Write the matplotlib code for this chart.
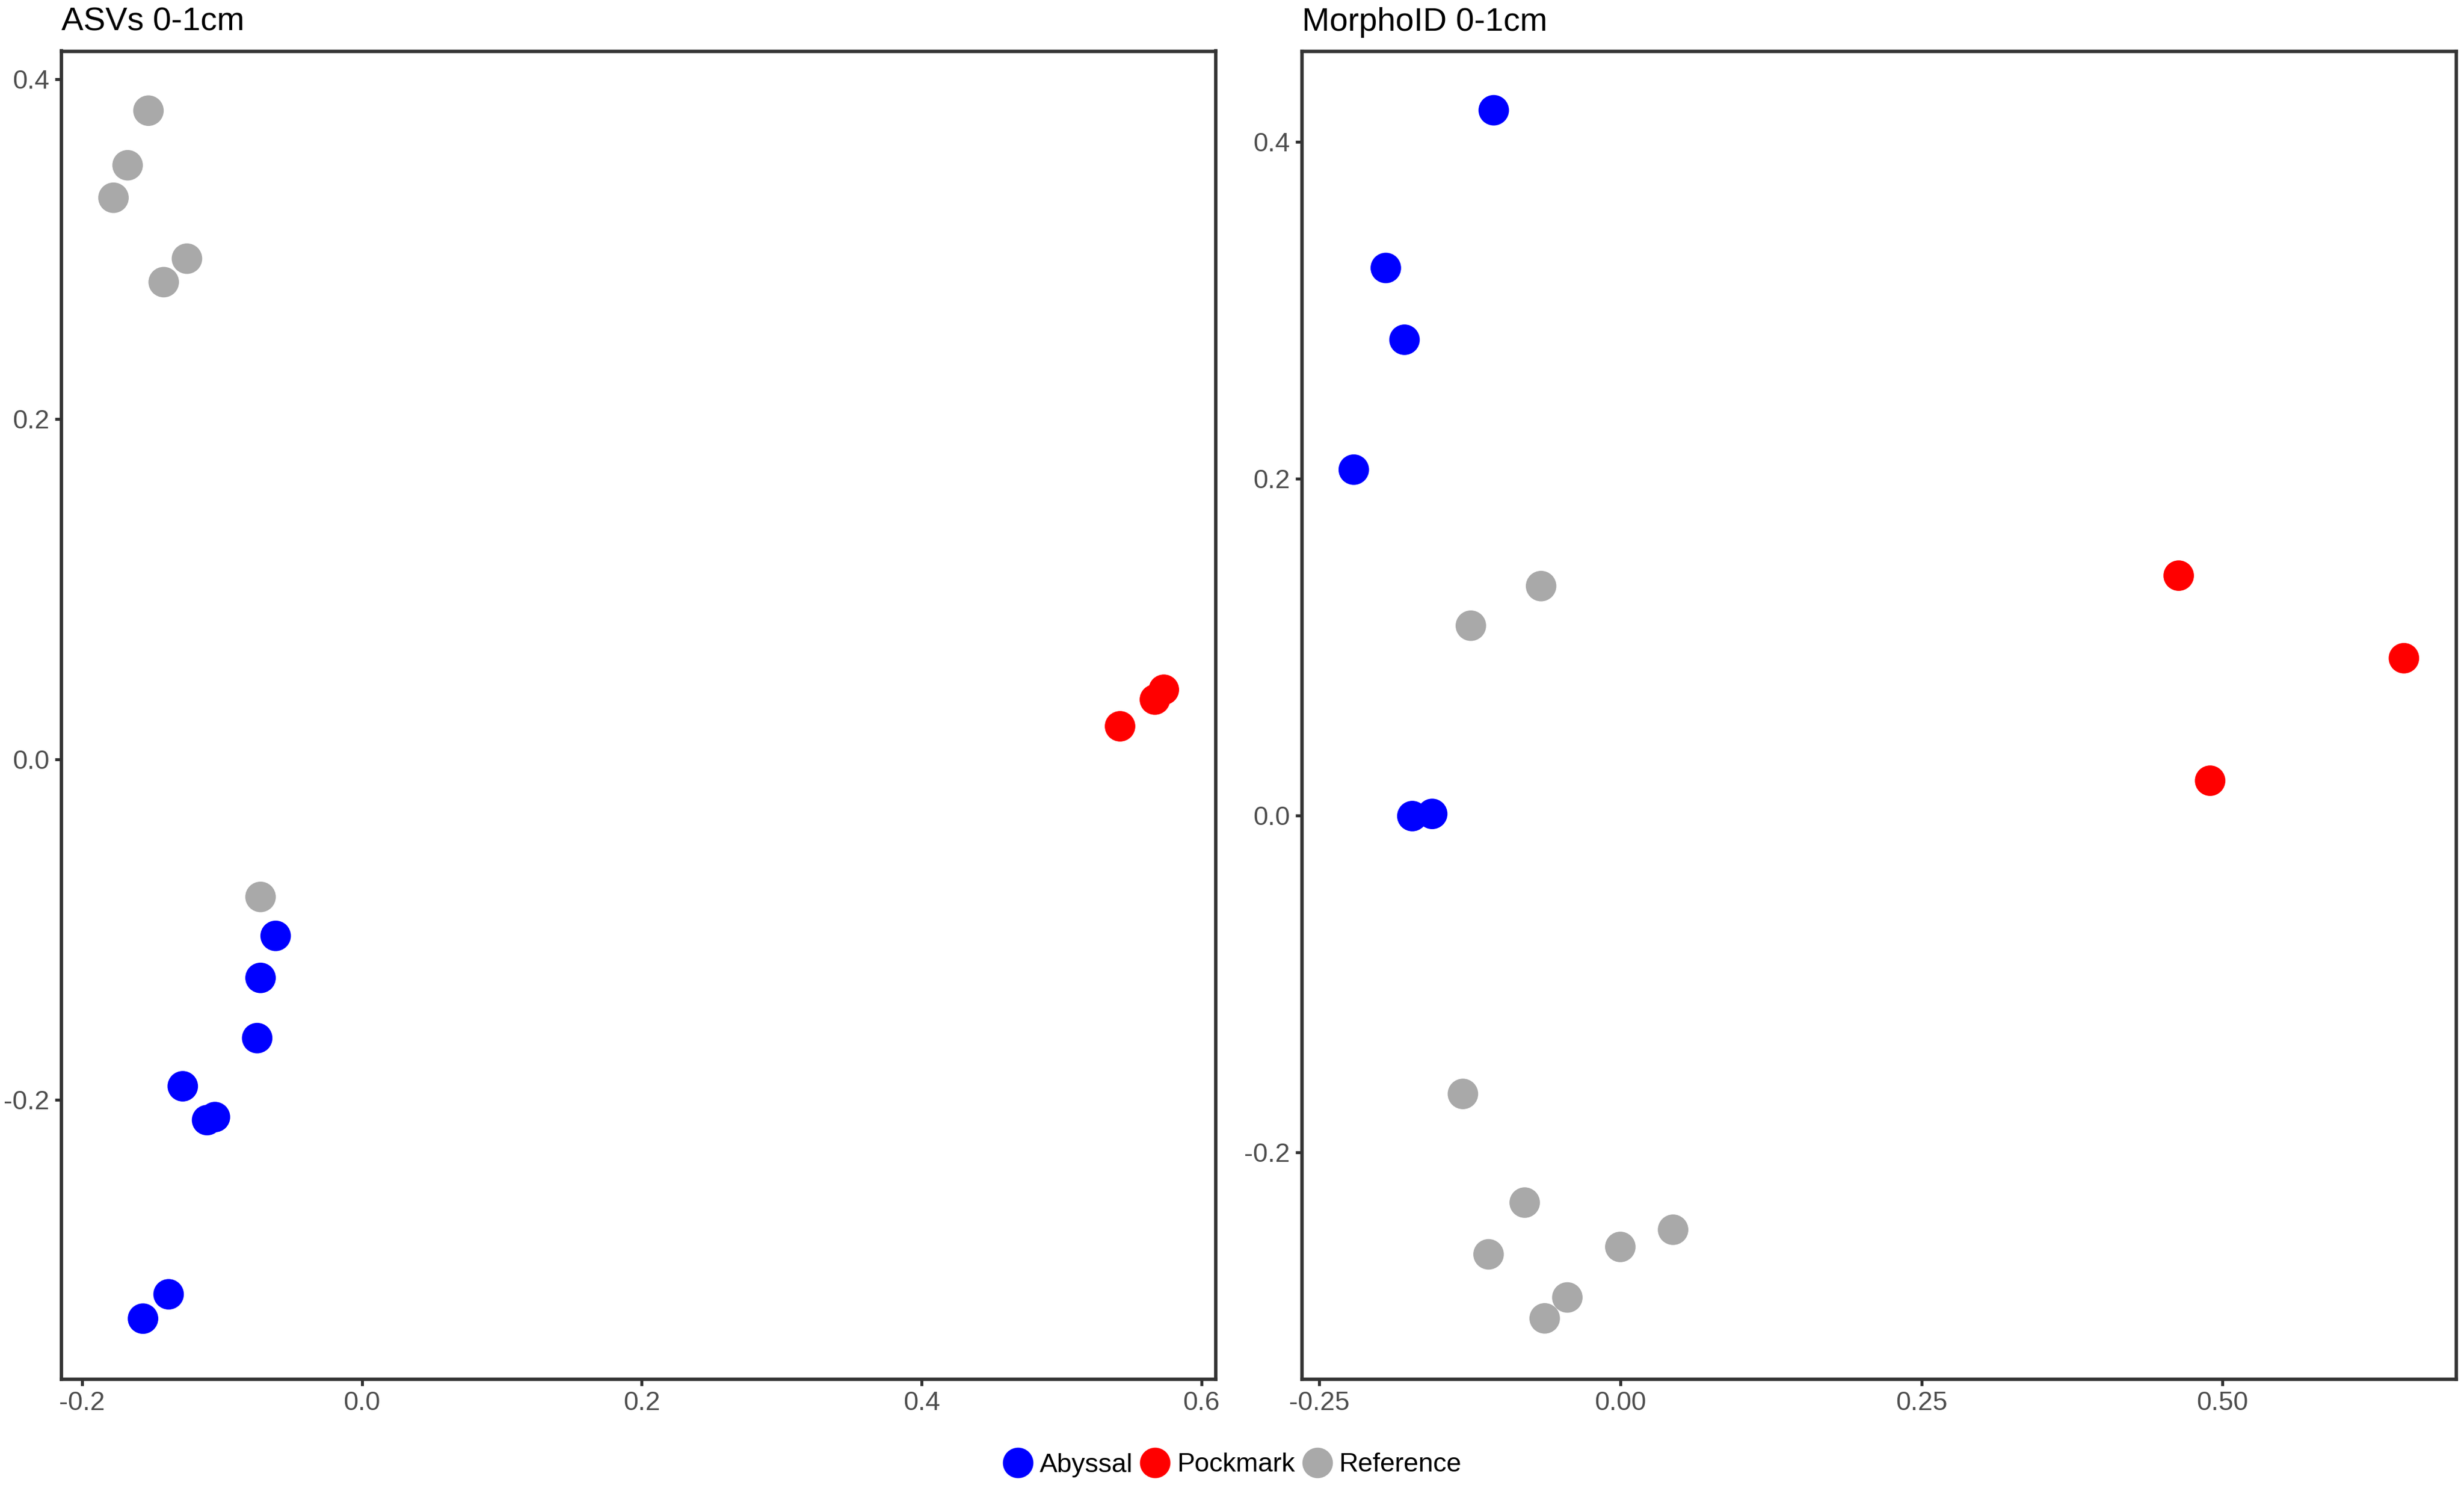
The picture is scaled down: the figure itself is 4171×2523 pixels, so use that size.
import matplotlib
matplotlib.use("Agg")
import matplotlib.pyplot as plt
from matplotlib.lines import Line2D
from matplotlib.ticker import FormatStrFormatter

plt.rcParams['font.family'] = ['Liberation Sans', 'DejaVu Sans']
plt.rcParams['axes.unicode_minus'] = False

# ---------------- data ----------------
groups = ["Abyssal", "Pockmark", "Reference"]
group_colors = ["#0000FF", "#FF0000", "#A9A9A9"]

# Panel 1: ASVs 0-1cm
asv_abyssal_x = [-0.0617, -0.0725, -0.0749, -0.1281, -0.1107, -0.1051, -0.1382, -0.1565]
asv_abyssal_y = [-0.1037, -0.1284, -0.1638, -0.1921, -0.2120, -0.2102, -0.3144, -0.3287]
asv_pockmark_x = [0.5418, 0.5667, 0.5731]
asv_pockmark_y = [0.0195, 0.0352, 0.0410]
asv_reference_x = [-0.1526, -0.1675, -0.1776, -0.1251, -0.1417, -0.0725]
asv_reference_y = [0.3814, 0.3493, 0.3302, 0.2944, 0.2806, -0.0808]

# Panel 2: MorphoID 0-1cm
mor_abyssal_x = [-0.1051, -0.1947, -0.1792, -0.2213, -0.1727, -0.1562]
mor_abyssal_y = [0.4186, 0.3250, 0.2824, 0.2053, -0.0003, 0.0010]
mor_pockmark_x = [0.4636, 0.6506, 0.4897]
mor_pockmark_y = [0.1424, 0.0934, 0.0207]
mor_reference_x = [-0.0658, -0.1241, -0.1307, -0.0794, -0.1094, 0.0000, 0.0438, -0.0440, -0.0628]
mor_reference_y = [0.1362, 0.1127, -0.1652, -0.2297, -0.2604, -0.2560, -0.2458, -0.2860, -0.2984]

titles = ["ASVs 0-1cm", "MorphoID 0-1cm"]
asv_xticks = [-0.2, 0.0, 0.2, 0.4, 0.6]
asv_yticks = [-0.2, 0.0, 0.2, 0.4]
mor_xticks = [-0.25, 0.0, 0.25, 0.50]
mor_yticks = [-0.2, 0.0, 0.2, 0.4]

# ---------------- figure ----------------
W, H, DPI = 4171, 2523, 300
fig = plt.figure(figsize=(W / DPI, H / DPI), dpi=DPI)

ax1 = fig.add_axes([104 / W, 1 - 2333.8 / H, (2058 - 104) / W, (2333.8 - 86.5) / H])
ax2 = fig.add_axes([2204 / W, 1 - 2333.8 / H, (4158 - 2204) / W, (2333.8 - 86.5) / H])

MS = 12.4
spine_c = "#333333"
tick_txt = "#4D4D4D"

panels = [
    (ax1, [(asv_abyssal_x, asv_abyssal_y), (asv_pockmark_x, asv_pockmark_y), (asv_reference_x, asv_reference_y)],
     (-0.2148, 0.6102), (-0.3643, 0.4164), asv_xticks, asv_yticks, "%.1f"),
    (ax2, [(mor_abyssal_x, mor_abyssal_y), (mor_pockmark_x, mor_pockmark_y), (mor_reference_x, mor_reference_y)],
     (-0.2643, 0.6941), (-0.3345, 0.4537), mor_xticks, mor_yticks, "%.2f"),
]

for ax, series, xl, yl, xt, yt, xfmt in panels:
    for (xs, ys), col in zip(series, group_colors):
        ax.scatter(xs, ys, s=MS ** 2, c=col, edgecolors='none', zorder=3)
    ax.set_xlim(*xl)
    ax.set_ylim(*yl)
    ax.set_xticks(xt)
    ax.set_yticks(yt)
    ax.xaxis.set_major_formatter(FormatStrFormatter(xfmt))
    ax.yaxis.set_major_formatter(FormatStrFormatter("%.1f"))
    for sp in ax.spines.values():
        sp.set_color(spine_c)
        sp.set_linewidth(1.37)
    ax.tick_params(axis='both', direction='out', length=2.6, width=1.2, color=spine_c,
                   labelcolor=tick_txt, labelsize=10.8, pad=2.2)

for ax, t in zip([ax1, ax2], titles):
    fig.text(ax.get_position().x0, 1 - 51.7 / H, t, fontsize=13.4, color="black",
             ha='left', va='baseline')

handles = [Line2D([0], [0], marker='o', linestyle='none', markersize=MS,
                  markerfacecolor=c, markeredgecolor='none') for c in group_colors]
fig.legend(handles, groups, loc='center', bbox_to_anchor=(0.5, 1 - 2479 / H), ncol=3,
           frameon=False, fontsize=10.8, handlelength=1.15, handletextpad=0.24,
           columnspacing=0.27, borderpad=0, borderaxespad=0)

fig.savefig("out.png", dpi=DPI, facecolor="white")
